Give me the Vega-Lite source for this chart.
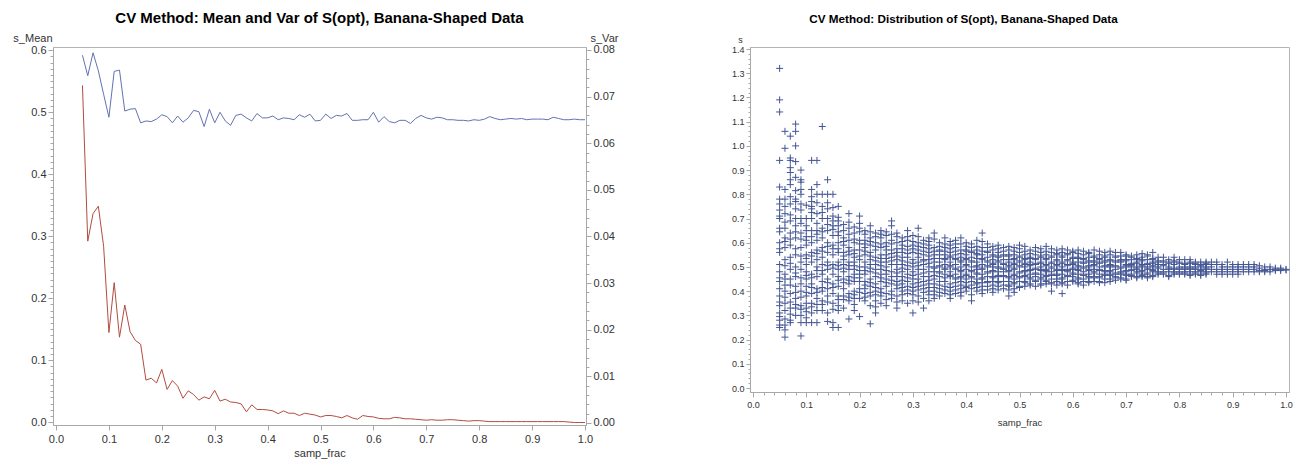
{
  "$schema": "https://vega.github.io/schema/vega-lite/v6.json",
  "padding": {"left": 12, "top": 10, "right": 0, "bottom": 0},
  "background": "white",
  "spacing": 111,
  "config": {
    "font": "Liberation Sans",
    "view": {"stroke": "#b4b4b4", "strokeWidth": 1},
    "axis": {"labelFont": "Liberation Sans", "titleFont": "Liberation Sans", "labelColor": "#333333", "titleColor": "#333333", "domainColor": "#a8a8a8", "tickColor": "#a8a8a8", "grid": false, "titleFontWeight": "normal", "labelOverlap": false, "labelFlush": false}
  },
  "datasets": {
    "summary": [
      {"samp_frac":0.05,"s_Mean":0.592,"s_Var":0.0724},{"samp_frac":0.06,"s_Mean":0.559,"s_Var":0.0390},{"samp_frac":0.07,"s_Mean":0.596,"s_Var":0.0449},{"samp_frac":0.08,"s_Mean":0.567,"s_Var":0.0465},{"samp_frac":0.09,"s_Mean":0.529,"s_Var":0.0379},{"samp_frac":0.10,"s_Mean":0.492,"s_Var":0.0194},{"samp_frac":0.11,"s_Mean":0.566,"s_Var":0.0301},{"samp_frac":0.12,"s_Mean":0.568,"s_Var":0.0184},{"samp_frac":0.13,"s_Mean":0.502,"s_Var":0.0253},{"samp_frac":0.14,"s_Mean":0.505,"s_Var":0.0196},
      {"samp_frac":0.15,"s_Mean":0.506,"s_Var":0.0177},{"samp_frac":0.16,"s_Mean":0.483,"s_Var":0.0169},{"samp_frac":0.17,"s_Mean":0.486,"s_Var":0.0092},{"samp_frac":0.18,"s_Mean":0.485,"s_Var":0.0096},{"samp_frac":0.19,"s_Mean":0.489,"s_Var":0.0086},{"samp_frac":0.20,"s_Mean":0.496,"s_Var":0.0115},{"samp_frac":0.21,"s_Mean":0.493,"s_Var":0.0072},{"samp_frac":0.22,"s_Mean":0.483,"s_Var":0.0091},{"samp_frac":0.23,"s_Mean":0.494,"s_Var":0.0079},{"samp_frac":0.24,"s_Mean":0.484,"s_Var":0.0053},
      {"samp_frac":0.25,"s_Mean":0.491,"s_Var":0.0069},{"samp_frac":0.26,"s_Mean":0.503,"s_Var":0.0061},{"samp_frac":0.27,"s_Mean":0.501,"s_Var":0.0049},{"samp_frac":0.28,"s_Mean":0.477,"s_Var":0.0056},{"samp_frac":0.29,"s_Mean":0.505,"s_Var":0.0052},{"samp_frac":0.30,"s_Mean":0.483,"s_Var":0.0070},{"samp_frac":0.31,"s_Mean":0.500,"s_Var":0.0047},{"samp_frac":0.32,"s_Mean":0.486,"s_Var":0.0051},{"samp_frac":0.33,"s_Mean":0.479,"s_Var":0.0045},{"samp_frac":0.34,"s_Mean":0.495,"s_Var":0.0044},
      {"samp_frac":0.35,"s_Mean":0.497,"s_Var":0.0041},{"samp_frac":0.36,"s_Mean":0.491,"s_Var":0.0024},{"samp_frac":0.37,"s_Mean":0.486,"s_Var":0.0039},{"samp_frac":0.38,"s_Mean":0.498,"s_Var":0.0029},{"samp_frac":0.39,"s_Mean":0.491,"s_Var":0.0029},{"samp_frac":0.40,"s_Mean":0.491,"s_Var":0.0028},{"samp_frac":0.41,"s_Mean":0.494,"s_Var":0.0026},{"samp_frac":0.42,"s_Mean":0.488,"s_Var":0.0020},{"samp_frac":0.43,"s_Mean":0.491,"s_Var":0.0026},{"samp_frac":0.44,"s_Mean":0.490,"s_Var":0.0021},
      {"samp_frac":0.45,"s_Mean":0.488,"s_Var":0.0021},{"samp_frac":0.46,"s_Mean":0.496,"s_Var":0.0016},{"samp_frac":0.47,"s_Mean":0.492,"s_Var":0.0021},{"samp_frac":0.48,"s_Mean":0.497,"s_Var":0.0019},{"samp_frac":0.49,"s_Mean":0.486,"s_Var":0.0017},{"samp_frac":0.50,"s_Mean":0.487,"s_Var":0.0013},{"samp_frac":0.51,"s_Mean":0.497,"s_Var":0.0016},{"samp_frac":0.52,"s_Mean":0.490,"s_Var":0.0016},{"samp_frac":0.53,"s_Mean":0.495,"s_Var":0.0014},{"samp_frac":0.54,"s_Mean":0.494,"s_Var":0.0011},
      {"samp_frac":0.55,"s_Mean":0.498,"s_Var":0.0016},{"samp_frac":0.56,"s_Mean":0.487,"s_Var":0.0011},{"samp_frac":0.57,"s_Mean":0.487,"s_Var":0.0008},{"samp_frac":0.58,"s_Mean":0.488,"s_Var":0.0016},{"samp_frac":0.59,"s_Mean":0.488,"s_Var":0.0014},{"samp_frac":0.60,"s_Mean":0.500,"s_Var":0.0013},{"samp_frac":0.61,"s_Mean":0.484,"s_Var":0.0010},{"samp_frac":0.62,"s_Mean":0.493,"s_Var":0.0009},{"samp_frac":0.63,"s_Mean":0.485,"s_Var":0.0009},{"samp_frac":0.64,"s_Mean":0.483,"s_Var":0.0012},
      {"samp_frac":0.65,"s_Mean":0.487,"s_Var":0.0011},{"samp_frac":0.66,"s_Mean":0.487,"s_Var":0.0009},{"samp_frac":0.67,"s_Mean":0.482,"s_Var":0.0009},{"samp_frac":0.68,"s_Mean":0.490,"s_Var":0.0008},{"samp_frac":0.69,"s_Mean":0.495,"s_Var":0.0007},{"samp_frac":0.70,"s_Mean":0.491,"s_Var":0.0006},{"samp_frac":0.71,"s_Mean":0.489,"s_Var":0.0007},{"samp_frac":0.72,"s_Mean":0.492,"s_Var":0.0006},{"samp_frac":0.73,"s_Mean":0.491,"s_Var":0.0006},{"samp_frac":0.74,"s_Mean":0.488,"s_Var":0.0007},
      {"samp_frac":0.75,"s_Mean":0.488,"s_Var":0.0007},{"samp_frac":0.76,"s_Mean":0.487,"s_Var":0.0006},{"samp_frac":0.77,"s_Mean":0.487,"s_Var":0.0005},{"samp_frac":0.78,"s_Mean":0.486,"s_Var":0.0004},{"samp_frac":0.79,"s_Mean":0.488,"s_Var":0.0005},{"samp_frac":0.80,"s_Mean":0.487,"s_Var":0.0005},{"samp_frac":0.81,"s_Mean":0.489,"s_Var":0.0004},{"samp_frac":0.82,"s_Mean":0.493,"s_Var":0.0003},{"samp_frac":0.83,"s_Mean":0.490,"s_Var":0.0003},{"samp_frac":0.84,"s_Mean":0.488,"s_Var":0.0003},
      {"samp_frac":0.85,"s_Mean":0.489,"s_Var":0.0003},{"samp_frac":0.86,"s_Mean":0.490,"s_Var":0.0003},{"samp_frac":0.87,"s_Mean":0.489,"s_Var":0.0003},{"samp_frac":0.88,"s_Mean":0.490,"s_Var":0.0003},{"samp_frac":0.89,"s_Mean":0.488,"s_Var":0.0003},{"samp_frac":0.90,"s_Mean":0.489,"s_Var":0.0003},{"samp_frac":0.91,"s_Mean":0.489,"s_Var":0.0003},{"samp_frac":0.92,"s_Mean":0.489,"s_Var":0.0003},{"samp_frac":0.93,"s_Mean":0.488,"s_Var":0.0003},{"samp_frac":0.94,"s_Mean":0.492,"s_Var":0.0003},
      {"samp_frac":0.95,"s_Mean":0.490,"s_Var":0.0003},{"samp_frac":0.96,"s_Mean":0.488,"s_Var":0.0003},{"samp_frac":0.97,"s_Mean":0.488,"s_Var":0.0002},{"samp_frac":0.98,"s_Mean":0.489,"s_Var":0.0001},{"samp_frac":0.99,"s_Mean":0.488,"s_Var":0.0001},{"samp_frac":1.00,"s_Mean":0.488,"s_Var":0.0001}
    ],
    "runs": [
      {"frac":0.05,"s":1.32},{"frac":0.05,"s":1.19},{"frac":0.05,"s":1.14},{"frac":0.05,"s":0.94},{"frac":0.05,"s":0.83},{"frac":0.05,"s":0.78},{"frac":0.05,"s":0.76},{"frac":0.05,"s":0.71},{"frac":0.05,"s":0.70},{"frac":0.05,"s":0.66},{"frac":0.05,"s":0.60},{"frac":0.05,"s":0.56},{"frac":0.05,"s":0.51},{"frac":0.05,"s":0.48},{"frac":0.05,"s":0.44},{"frac":0.05,"s":0.41},{"frac":0.05,"s":0.38},{"frac":0.05,"s":0.34},{"frac":0.05,"s":0.31},{"frac":0.05,"s":0.28},{"frac":0.05,"s":0.26},{"frac":0.05,"s":0.25},
      {"frac":0.06,"s":1.06},{"frac":0.06,"s":0.99},{"frac":0.06,"s":0.82},{"frac":0.06,"s":0.78},{"frac":0.06,"s":0.75},{"frac":0.06,"s":0.72},{"frac":0.06,"s":0.66},{"frac":0.06,"s":0.62},{"frac":0.06,"s":0.58},{"frac":0.06,"s":0.53},{"frac":0.06,"s":0.47},{"frac":0.06,"s":0.45},{"frac":0.06,"s":0.40},{"frac":0.06,"s":0.35},{"frac":0.06,"s":0.32},{"frac":0.06,"s":0.26},{"frac":0.06,"s":0.24},{"frac":0.06,"s":0.21},
      {"frac":0.07,"s":1.04},{"frac":0.07,"s":0.95},{"frac":0.07,"s":0.94},{"frac":0.07,"s":0.91},{"frac":0.07,"s":0.89},{"frac":0.07,"s":0.86},{"frac":0.07,"s":0.84},{"frac":0.07,"s":0.79},{"frac":0.07,"s":0.76},{"frac":0.07,"s":0.69},{"frac":0.07,"s":0.64},{"frac":0.07,"s":0.59},{"frac":0.07,"s":0.54},{"frac":0.07,"s":0.49},{"frac":0.07,"s":0.45},{"frac":0.07,"s":0.39},{"frac":0.07,"s":0.33},{"frac":0.07,"s":0.28},{"frac":0.07,"s":0.27},
      {"frac":0.08,"s":1.09},{"frac":0.08,"s":1.06},{"frac":0.08,"s":1.00},{"frac":0.08,"s":0.935},{"frac":0.08,"s":0.87},{"frac":0.08,"s":0.78},{"frac":0.08,"s":0.77},{"frac":0.08,"s":0.74},{"frac":0.08,"s":0.70},{"frac":0.08,"s":0.67},{"frac":0.08,"s":0.62},{"frac":0.08,"s":0.55},{"frac":0.08,"s":0.50},{"frac":0.08,"s":0.46},{"frac":0.08,"s":0.42},{"frac":0.08,"s":0.37},{"frac":0.08,"s":0.33},{"frac":0.08,"s":0.30},
      {"frac":0.09,"s":0.90},{"frac":0.09,"s":0.86},{"frac":0.09,"s":0.85},{"frac":0.09,"s":0.82},{"frac":0.09,"s":0.80},{"frac":0.09,"s":0.76},{"frac":0.09,"s":0.70},{"frac":0.09,"s":0.68},{"frac":0.09,"s":0.64},{"frac":0.09,"s":0.58},{"frac":0.09,"s":0.52},{"frac":0.09,"s":0.49},{"frac":0.09,"s":0.43},{"frac":0.09,"s":0.40},{"frac":0.09,"s":0.34},{"frac":0.09,"s":0.30},{"frac":0.09,"s":0.27},{"frac":0.09,"s":0.215},
      {"frac":0.10,"s":0.70},{"frac":0.10,"s":0.67},{"frac":0.10,"s":0.65},{"frac":0.10,"s":0.61},{"frac":0.10,"s":0.59},{"frac":0.10,"s":0.55},{"frac":0.10,"s":0.51},{"frac":0.10,"s":0.48},{"frac":0.10,"s":0.45},{"frac":0.10,"s":0.42},{"frac":0.10,"s":0.38},{"frac":0.10,"s":0.35},{"frac":0.10,"s":0.33},{"frac":0.10,"s":0.29},{"frac":0.10,"s":0.27},
      {"frac":0.11,"s":0.94},{"frac":0.11,"s":0.82},{"frac":0.11,"s":0.79},{"frac":0.11,"s":0.77},{"frac":0.11,"s":0.75},{"frac":0.11,"s":0.74},{"frac":0.11,"s":0.70},{"frac":0.11,"s":0.65},{"frac":0.11,"s":0.60},{"frac":0.11,"s":0.56},{"frac":0.11,"s":0.52},{"frac":0.11,"s":0.47},{"frac":0.11,"s":0.43},{"frac":0.11,"s":0.39},{"frac":0.11,"s":0.35},{"frac":0.11,"s":0.31},{"frac":0.11,"s":0.27},
      {"frac":0.12,"s":0.94},{"frac":0.12,"s":0.84},{"frac":0.12,"s":0.80},{"frac":0.12,"s":0.72},{"frac":0.12,"s":0.68},{"frac":0.12,"s":0.65},{"frac":0.12,"s":0.61},{"frac":0.12,"s":0.57},{"frac":0.12,"s":0.53},{"frac":0.12,"s":0.50},{"frac":0.12,"s":0.46},{"frac":0.12,"s":0.41},{"frac":0.12,"s":0.37},{"frac":0.12,"s":0.32},{"frac":0.12,"s":0.27},
      {"frac":0.13,"s":1.08},{"frac":0.13,"s":0.80},{"frac":0.13,"s":0.75},{"frac":0.13,"s":0.70},{"frac":0.13,"s":0.66},{"frac":0.13,"s":0.62},{"frac":0.13,"s":0.58},{"frac":0.13,"s":0.54},{"frac":0.13,"s":0.51},{"frac":0.13,"s":0.47},{"frac":0.13,"s":0.44},{"frac":0.13,"s":0.40},{"frac":0.13,"s":0.36},{"frac":0.13,"s":0.32},
      {"frac":0.14,"s":0.86},{"frac":0.14,"s":0.80},{"frac":0.14,"s":0.74},{"frac":0.14,"s":0.70},{"frac":0.14,"s":0.65},{"frac":0.14,"s":0.60},{"frac":0.14,"s":0.56},{"frac":0.14,"s":0.52},{"frac":0.14,"s":0.49},{"frac":0.14,"s":0.45},{"frac":0.14,"s":0.41},{"frac":0.14,"s":0.38},{"frac":0.14,"s":0.31},{"frac":0.14,"s":0.275},
      {"frac":0.15,"s":0.80},{"frac":0.15,"s":0.71},{"frac":0.15,"s":0.69},{"frac":0.15,"s":0.67},{"frac":0.15,"s":0.63},{"frac":0.15,"s":0.59},{"frac":0.15,"s":0.55},{"frac":0.15,"s":0.51},{"frac":0.15,"s":0.47},{"frac":0.15,"s":0.43},{"frac":0.15,"s":0.39},{"frac":0.15,"s":0.35},{"frac":0.15,"s":0.27},{"frac":0.15,"s":0.25},
      {"frac":0.16,"s":0.75},{"frac":0.16,"s":0.69},{"frac":0.16,"s":0.67},{"frac":0.16,"s":0.63},{"frac":0.16,"s":0.60},{"frac":0.16,"s":0.56},{"frac":0.16,"s":0.52},{"frac":0.16,"s":0.49},{"frac":0.16,"s":0.46},{"frac":0.16,"s":0.42},{"frac":0.16,"s":0.38},{"frac":0.16,"s":0.34},{"frac":0.16,"s":0.32},{"frac":0.16,"s":0.25},
      {"frac":0.17,"s":0.65},{"frac":0.17,"s":0.62},{"frac":0.17,"s":0.59},{"frac":0.17,"s":0.56},{"frac":0.17,"s":0.53},{"frac":0.17,"s":0.51},{"frac":0.17,"s":0.48},{"frac":0.17,"s":0.45},{"frac":0.17,"s":0.41},{"frac":0.17,"s":0.38},{"frac":0.17,"s":0.33},
      {"frac":0.18,"s":0.72},{"frac":0.18,"s":0.66},{"frac":0.18,"s":0.61},{"frac":0.18,"s":0.58},{"frac":0.18,"s":0.55},{"frac":0.18,"s":0.52},{"frac":0.18,"s":0.49},{"frac":0.18,"s":0.46},{"frac":0.18,"s":0.43},{"frac":0.18,"s":0.39},{"frac":0.18,"s":0.36},{"frac":0.18,"s":0.285},
      {"frac":0.19,"s":0.64},{"frac":0.19,"s":0.60},{"frac":0.19,"s":0.57},{"frac":0.19,"s":0.54},{"frac":0.19,"s":0.52},{"frac":0.19,"s":0.49},{"frac":0.19,"s":0.47},{"frac":0.19,"s":0.44},{"frac":0.19,"s":0.40},{"frac":0.19,"s":0.37},{"frac":0.19,"s":0.32},
      {"frac":0.20,"s":0.71},{"frac":0.20,"s":0.68},{"frac":0.20,"s":0.66},{"frac":0.20,"s":0.61},{"frac":0.20,"s":0.57},{"frac":0.20,"s":0.53},{"frac":0.20,"s":0.50},{"frac":0.20,"s":0.47},{"frac":0.20,"s":0.44},{"frac":0.20,"s":0.41},{"frac":0.20,"s":0.37},{"frac":0.20,"s":0.295},
      {"frac":0.21,"s":0.65},{"frac":0.21,"s":0.61},{"frac":0.21,"s":0.58},{"frac":0.21,"s":0.55},{"frac":0.21,"s":0.52},{"frac":0.21,"s":0.50},{"frac":0.21,"s":0.47},{"frac":0.21,"s":0.44},{"frac":0.21,"s":0.41},{"frac":0.21,"s":0.39},{"frac":0.21,"s":0.36},
      {"frac":0.22,"s":0.67},{"frac":0.22,"s":0.62},{"frac":0.22,"s":0.59},{"frac":0.22,"s":0.56},{"frac":0.22,"s":0.53},{"frac":0.22,"s":0.51},{"frac":0.22,"s":0.48},{"frac":0.22,"s":0.45},{"frac":0.22,"s":0.42},{"frac":0.22,"s":0.38},{"frac":0.22,"s":0.34},{"frac":0.22,"s":0.265},
      {"frac":0.23,"s":0.64},{"frac":0.23,"s":0.60},{"frac":0.23,"s":0.57},{"frac":0.23,"s":0.54},{"frac":0.23,"s":0.51},{"frac":0.23,"s":0.49},{"frac":0.23,"s":0.46},{"frac":0.23,"s":0.43},{"frac":0.23,"s":0.40},{"frac":0.23,"s":0.36},{"frac":0.23,"s":0.31},
      {"frac":0.24,"s":0.65},{"frac":0.24,"s":0.62},{"frac":0.24,"s":0.58},{"frac":0.24,"s":0.55},{"frac":0.24,"s":0.52},{"frac":0.24,"s":0.49},{"frac":0.24,"s":0.47},{"frac":0.24,"s":0.44},{"frac":0.24,"s":0.41},{"frac":0.24,"s":0.38},{"frac":0.24,"s":0.35},
      {"frac":0.25,"s":0.63},{"frac":0.25,"s":0.60},{"frac":0.25,"s":0.57},{"frac":0.25,"s":0.55},{"frac":0.25,"s":0.52},{"frac":0.25,"s":0.50},{"frac":0.25,"s":0.47},{"frac":0.25,"s":0.45},{"frac":0.25,"s":0.42},{"frac":0.25,"s":0.39},{"frac":0.25,"s":0.34},
      {"frac":0.26,"s":0.69},{"frac":0.26,"s":0.67},{"frac":0.26,"s":0.61},{"frac":0.26,"s":0.57},{"frac":0.26,"s":0.54},{"frac":0.26,"s":0.51},{"frac":0.26,"s":0.48},{"frac":0.26,"s":0.46},{"frac":0.26,"s":0.43},{"frac":0.26,"s":0.40},{"frac":0.26,"s":0.37},
      {"frac":0.27,"s":0.64},{"frac":0.27,"s":0.60},{"frac":0.27,"s":0.56},{"frac":0.27,"s":0.53},{"frac":0.27,"s":0.51},{"frac":0.27,"s":0.49},{"frac":0.27,"s":0.46},{"frac":0.27,"s":0.44},{"frac":0.27,"s":0.41},{"frac":0.27,"s":0.38},{"frac":0.27,"s":0.33},
      {"frac":0.28,"s":0.62},{"frac":0.28,"s":0.59},{"frac":0.28,"s":0.56},{"frac":0.28,"s":0.54},{"frac":0.28,"s":0.51},{"frac":0.28,"s":0.48},{"frac":0.28,"s":0.46},{"frac":0.28,"s":0.43},{"frac":0.28,"s":0.40},{"frac":0.28,"s":0.36},
      {"frac":0.29,"s":0.65},{"frac":0.29,"s":0.61},{"frac":0.29,"s":0.57},{"frac":0.29,"s":0.54},{"frac":0.29,"s":0.52},{"frac":0.29,"s":0.49},{"frac":0.29,"s":0.47},{"frac":0.29,"s":0.44},{"frac":0.29,"s":0.42},{"frac":0.29,"s":0.39},{"frac":0.29,"s":0.35},
      {"frac":0.30,"s":0.63},{"frac":0.30,"s":0.59},{"frac":0.30,"s":0.56},{"frac":0.30,"s":0.53},{"frac":0.30,"s":0.50},{"frac":0.30,"s":0.48},{"frac":0.30,"s":0.45},{"frac":0.30,"s":0.43},{"frac":0.30,"s":0.40},{"frac":0.30,"s":0.36},{"frac":0.30,"s":0.31},
      {"frac":0.31,"s":0.66},{"frac":0.31,"s":0.60},{"frac":0.31,"s":0.57},{"frac":0.31,"s":0.54},{"frac":0.31,"s":0.52},{"frac":0.31,"s":0.49},{"frac":0.31,"s":0.47},{"frac":0.31,"s":0.45},{"frac":0.31,"s":0.42},{"frac":0.31,"s":0.38},
      {"frac":0.32,"s":0.61},{"frac":0.32,"s":0.58},{"frac":0.32,"s":0.55},{"frac":0.32,"s":0.53},{"frac":0.32,"s":0.51},{"frac":0.32,"s":0.49},{"frac":0.32,"s":0.46},{"frac":0.32,"s":0.44},{"frac":0.32,"s":0.41},{"frac":0.32,"s":0.37},{"frac":0.32,"s":0.33},
      {"frac":0.33,"s":0.62},{"frac":0.33,"s":0.59},{"frac":0.33,"s":0.56},{"frac":0.33,"s":0.53},{"frac":0.33,"s":0.50},{"frac":0.33,"s":0.48},{"frac":0.33,"s":0.46},{"frac":0.33,"s":0.43},{"frac":0.33,"s":0.40},{"frac":0.33,"s":0.36},
      {"frac":0.34,"s":0.64},{"frac":0.34,"s":0.58},{"frac":0.34,"s":0.55},{"frac":0.34,"s":0.52},{"frac":0.34,"s":0.50},{"frac":0.34,"s":0.48},{"frac":0.34,"s":0.45},{"frac":0.34,"s":0.43},{"frac":0.34,"s":0.40},{"frac":0.34,"s":0.37},
      {"frac":0.35,"s":0.60},{"frac":0.35,"s":0.57},{"frac":0.35,"s":0.55},{"frac":0.35,"s":0.52},{"frac":0.35,"s":0.50},{"frac":0.35,"s":0.48},{"frac":0.35,"s":0.46},{"frac":0.35,"s":0.44},{"frac":0.35,"s":0.41},{"frac":0.35,"s":0.38},
      {"frac":0.36,"s":0.62},{"frac":0.36,"s":0.58},{"frac":0.36,"s":0.55},{"frac":0.36,"s":0.53},{"frac":0.36,"s":0.51},{"frac":0.36,"s":0.49},{"frac":0.36,"s":0.47},{"frac":0.36,"s":0.44},{"frac":0.36,"s":0.42},{"frac":0.36,"s":0.39},
      {"frac":0.37,"s":0.59},{"frac":0.37,"s":0.56},{"frac":0.37,"s":0.54},{"frac":0.37,"s":0.52},{"frac":0.37,"s":0.50},{"frac":0.37,"s":0.48},{"frac":0.37,"s":0.46},{"frac":0.37,"s":0.43},{"frac":0.37,"s":0.40},{"frac":0.37,"s":0.37},
      {"frac":0.38,"s":0.61},{"frac":0.38,"s":0.58},{"frac":0.38,"s":0.55},{"frac":0.38,"s":0.53},{"frac":0.38,"s":0.51},{"frac":0.38,"s":0.49},{"frac":0.38,"s":0.47},{"frac":0.38,"s":0.45},{"frac":0.38,"s":0.42},{"frac":0.38,"s":0.39},
      {"frac":0.39,"s":0.62},{"frac":0.39,"s":0.57},{"frac":0.39,"s":0.54},{"frac":0.39,"s":0.52},{"frac":0.39,"s":0.50},{"frac":0.39,"s":0.48},{"frac":0.39,"s":0.46},{"frac":0.39,"s":0.44},{"frac":0.39,"s":0.41},{"frac":0.39,"s":0.38},
      {"frac":0.40,"s":0.60},{"frac":0.40,"s":0.57},{"frac":0.40,"s":0.55},{"frac":0.40,"s":0.53},{"frac":0.40,"s":0.51},{"frac":0.40,"s":0.49},{"frac":0.40,"s":0.47},{"frac":0.40,"s":0.45},{"frac":0.40,"s":0.42},{"frac":0.40,"s":0.40},
      {"frac":0.41,"s":0.58},{"frac":0.41,"s":0.56},{"frac":0.41,"s":0.54},{"frac":0.41,"s":0.52},{"frac":0.41,"s":0.50},{"frac":0.41,"s":0.48},{"frac":0.41,"s":0.46},{"frac":0.41,"s":0.44},{"frac":0.41,"s":0.41},{"frac":0.41,"s":0.36},
      {"frac":0.42,"s":0.61},{"frac":0.42,"s":0.57},{"frac":0.42,"s":0.55},{"frac":0.42,"s":0.52},{"frac":0.42,"s":0.50},{"frac":0.42,"s":0.49},{"frac":0.42,"s":0.47},{"frac":0.42,"s":0.45},{"frac":0.42,"s":0.43},{"frac":0.42,"s":0.40},
      {"frac":0.43,"s":0.64},{"frac":0.43,"s":0.58},{"frac":0.43,"s":0.55},{"frac":0.43,"s":0.53},{"frac":0.43,"s":0.51},{"frac":0.43,"s":0.49},{"frac":0.43,"s":0.47},{"frac":0.43,"s":0.45},{"frac":0.43,"s":0.42},{"frac":0.43,"s":0.39},
      {"frac":0.44,"s":0.58},{"frac":0.44,"s":0.56},{"frac":0.44,"s":0.54},{"frac":0.44,"s":0.52},{"frac":0.44,"s":0.50},{"frac":0.44,"s":0.48},{"frac":0.44,"s":0.46},{"frac":0.44,"s":0.44},{"frac":0.44,"s":0.42},
      {"frac":0.45,"s":0.57},{"frac":0.45,"s":0.55},{"frac":0.45,"s":0.53},{"frac":0.45,"s":0.51},{"frac":0.45,"s":0.50},{"frac":0.45,"s":0.48},{"frac":0.45,"s":0.46},{"frac":0.45,"s":0.44},{"frac":0.45,"s":0.41},
      {"frac":0.46,"s":0.59},{"frac":0.46,"s":0.56},{"frac":0.46,"s":0.54},{"frac":0.46,"s":0.52},{"frac":0.46,"s":0.50},{"frac":0.46,"s":0.48},{"frac":0.46,"s":0.46},{"frac":0.46,"s":0.44},{"frac":0.46,"s":0.42},
      {"frac":0.47,"s":0.58},{"frac":0.47,"s":0.55},{"frac":0.47,"s":0.53},{"frac":0.47,"s":0.51},{"frac":0.47,"s":0.49},{"frac":0.47,"s":0.48},{"frac":0.47,"s":0.46},{"frac":0.47,"s":0.44},{"frac":0.47,"s":0.41},
      {"frac":0.48,"s":0.57},{"frac":0.48,"s":0.55},{"frac":0.48,"s":0.53},{"frac":0.48,"s":0.52},{"frac":0.48,"s":0.50},{"frac":0.48,"s":0.48},{"frac":0.48,"s":0.46},{"frac":0.48,"s":0.44},{"frac":0.48,"s":0.42},{"frac":0.48,"s":0.38},
      {"frac":0.49,"s":0.58},{"frac":0.49,"s":0.55},{"frac":0.49,"s":0.53},{"frac":0.49,"s":0.51},{"frac":0.49,"s":0.49},{"frac":0.49,"s":0.47},{"frac":0.49,"s":0.45},{"frac":0.49,"s":0.43},{"frac":0.49,"s":0.41},
      {"frac":0.50,"s":0.59},{"frac":0.50,"s":0.56},{"frac":0.50,"s":0.54},{"frac":0.50,"s":0.52},{"frac":0.50,"s":0.50},{"frac":0.50,"s":0.48},{"frac":0.50,"s":0.46},{"frac":0.50,"s":0.44},{"frac":0.50,"s":0.42},
      {"frac":0.51,"s":0.585},{"frac":0.51,"s":0.55},{"frac":0.51,"s":0.53},{"frac":0.51,"s":0.51},{"frac":0.51,"s":0.50},{"frac":0.51,"s":0.48},{"frac":0.51,"s":0.46},{"frac":0.51,"s":0.44},{"frac":0.51,"s":0.42},
      {"frac":0.52,"s":0.57},{"frac":0.52,"s":0.54},{"frac":0.52,"s":0.52},{"frac":0.52,"s":0.51},{"frac":0.52,"s":0.49},{"frac":0.52,"s":0.47},{"frac":0.52,"s":0.45},{"frac":0.52,"s":0.43},
      {"frac":0.53,"s":0.58},{"frac":0.53,"s":0.55},{"frac":0.53,"s":0.53},{"frac":0.53,"s":0.51},{"frac":0.53,"s":0.49},{"frac":0.53,"s":0.47},{"frac":0.53,"s":0.46},{"frac":0.53,"s":0.44},{"frac":0.53,"s":0.42},
      {"frac":0.54,"s":0.56},{"frac":0.54,"s":0.54},{"frac":0.54,"s":0.52},{"frac":0.54,"s":0.50},{"frac":0.54,"s":0.49},{"frac":0.54,"s":0.47},{"frac":0.54,"s":0.45},{"frac":0.54,"s":0.43},
      {"frac":0.55,"s":0.585},{"frac":0.55,"s":0.55},{"frac":0.55,"s":0.53},{"frac":0.55,"s":0.51},{"frac":0.55,"s":0.49},{"frac":0.55,"s":0.48},{"frac":0.55,"s":0.46},{"frac":0.55,"s":0.44},{"frac":0.55,"s":0.43},
      {"frac":0.56,"s":0.56},{"frac":0.56,"s":0.54},{"frac":0.56,"s":0.52},{"frac":0.56,"s":0.50},{"frac":0.56,"s":0.48},{"frac":0.56,"s":0.47},{"frac":0.56,"s":0.45},{"frac":0.56,"s":0.43},{"frac":0.56,"s":0.40},
      {"frac":0.57,"s":0.57},{"frac":0.57,"s":0.55},{"frac":0.57,"s":0.53},{"frac":0.57,"s":0.51},{"frac":0.57,"s":0.49},{"frac":0.57,"s":0.47},{"frac":0.57,"s":0.45},{"frac":0.57,"s":0.44},
      {"frac":0.58,"s":0.56},{"frac":0.58,"s":0.54},{"frac":0.58,"s":0.52},{"frac":0.58,"s":0.50},{"frac":0.58,"s":0.49},{"frac":0.58,"s":0.47},{"frac":0.58,"s":0.45},{"frac":0.58,"s":0.43},{"frac":0.58,"s":0.39},
      {"frac":0.59,"s":0.57},{"frac":0.59,"s":0.55},{"frac":0.59,"s":0.53},{"frac":0.59,"s":0.51},{"frac":0.59,"s":0.49},{"frac":0.59,"s":0.48},{"frac":0.59,"s":0.46},{"frac":0.59,"s":0.44},
      {"frac":0.60,"s":0.56},{"frac":0.60,"s":0.54},{"frac":0.60,"s":0.52},{"frac":0.60,"s":0.51},{"frac":0.60,"s":0.49},{"frac":0.60,"s":0.47},{"frac":0.60,"s":0.46},{"frac":0.60,"s":0.44},
      {"frac":0.61,"s":0.57},{"frac":0.61,"s":0.54},{"frac":0.61,"s":0.52},{"frac":0.61,"s":0.50},{"frac":0.61,"s":0.49},{"frac":0.61,"s":0.47},{"frac":0.61,"s":0.45},{"frac":0.61,"s":0.43},
      {"frac":0.62,"s":0.55},{"frac":0.62,"s":0.53},{"frac":0.62,"s":0.52},{"frac":0.62,"s":0.50},{"frac":0.62,"s":0.48},{"frac":0.62,"s":0.47},{"frac":0.62,"s":0.45},{"frac":0.62,"s":0.44},
      {"frac":0.63,"s":0.56},{"frac":0.63,"s":0.54},{"frac":0.63,"s":0.52},{"frac":0.63,"s":0.50},{"frac":0.63,"s":0.49},{"frac":0.63,"s":0.47},{"frac":0.63,"s":0.46},{"frac":0.63,"s":0.44},
      {"frac":0.64,"s":0.57},{"frac":0.64,"s":0.54},{"frac":0.64,"s":0.52},{"frac":0.64,"s":0.51},{"frac":0.64,"s":0.49},{"frac":0.64,"s":0.48},{"frac":0.64,"s":0.46},{"frac":0.64,"s":0.44},
      {"frac":0.65,"s":0.55},{"frac":0.65,"s":0.53},{"frac":0.65,"s":0.52},{"frac":0.65,"s":0.50},{"frac":0.65,"s":0.49},{"frac":0.65,"s":0.47},{"frac":0.65,"s":0.46},{"frac":0.65,"s":0.44},
      {"frac":0.66,"s":0.56},{"frac":0.66,"s":0.54},{"frac":0.66,"s":0.52},{"frac":0.66,"s":0.50},{"frac":0.66,"s":0.48},{"frac":0.66,"s":0.47},{"frac":0.66,"s":0.45},
      {"frac":0.67,"s":0.55},{"frac":0.67,"s":0.53},{"frac":0.67,"s":0.51},{"frac":0.67,"s":0.50},{"frac":0.67,"s":0.48},{"frac":0.67,"s":0.47},{"frac":0.67,"s":0.45},{"frac":0.67,"s":0.44},
      {"frac":0.68,"s":0.56},{"frac":0.68,"s":0.54},{"frac":0.68,"s":0.52},{"frac":0.68,"s":0.50},{"frac":0.68,"s":0.49},{"frac":0.68,"s":0.47},{"frac":0.68,"s":0.46},
      {"frac":0.69,"s":0.56},{"frac":0.69,"s":0.53},{"frac":0.69,"s":0.52},{"frac":0.69,"s":0.50},{"frac":0.69,"s":0.48},{"frac":0.69,"s":0.47},{"frac":0.69,"s":0.45},
      {"frac":0.70,"s":0.55},{"frac":0.70,"s":0.53},{"frac":0.70,"s":0.51},{"frac":0.70,"s":0.50},{"frac":0.70,"s":0.48},{"frac":0.70,"s":0.47},{"frac":0.70,"s":0.45},
      {"frac":0.71,"s":0.54},{"frac":0.71,"s":0.53},{"frac":0.71,"s":0.51},{"frac":0.71,"s":0.50},{"frac":0.71,"s":0.49},{"frac":0.71,"s":0.47},{"frac":0.71,"s":0.46},
      {"frac":0.72,"s":0.55},{"frac":0.72,"s":0.53},{"frac":0.72,"s":0.52},{"frac":0.72,"s":0.50},{"frac":0.72,"s":0.49},{"frac":0.72,"s":0.48},{"frac":0.72,"s":0.46},
      {"frac":0.73,"s":0.54},{"frac":0.73,"s":0.53},{"frac":0.73,"s":0.51},{"frac":0.73,"s":0.50},{"frac":0.73,"s":0.48},{"frac":0.73,"s":0.47},{"frac":0.73,"s":0.46},
      {"frac":0.74,"s":0.55},{"frac":0.74,"s":0.53},{"frac":0.74,"s":0.51},{"frac":0.74,"s":0.50},{"frac":0.74,"s":0.49},{"frac":0.74,"s":0.47},{"frac":0.74,"s":0.46},
      {"frac":0.75,"s":0.56},{"frac":0.75,"s":0.53},{"frac":0.75,"s":0.52},{"frac":0.75,"s":0.50},{"frac":0.75,"s":0.49},{"frac":0.75,"s":0.48},{"frac":0.75,"s":0.46},
      {"frac":0.76,"s":0.54},{"frac":0.76,"s":0.52},{"frac":0.76,"s":0.51},{"frac":0.76,"s":0.50},{"frac":0.76,"s":0.48},{"frac":0.76,"s":0.47},
      {"frac":0.77,"s":0.54},{"frac":0.77,"s":0.52},{"frac":0.77,"s":0.51},{"frac":0.77,"s":0.49},{"frac":0.77,"s":0.48},{"frac":0.77,"s":0.47},
      {"frac":0.78,"s":0.53},{"frac":0.78,"s":0.52},{"frac":0.78,"s":0.50},{"frac":0.78,"s":0.49},{"frac":0.78,"s":0.48},{"frac":0.78,"s":0.46},
      {"frac":0.79,"s":0.54},{"frac":0.79,"s":0.52},{"frac":0.79,"s":0.51},{"frac":0.79,"s":0.49},{"frac":0.79,"s":0.48},{"frac":0.79,"s":0.47},
      {"frac":0.80,"s":0.53},{"frac":0.80,"s":0.52},{"frac":0.80,"s":0.50},{"frac":0.80,"s":0.49},{"frac":0.80,"s":0.48},{"frac":0.80,"s":0.47},
      {"frac":0.81,"s":0.53},{"frac":0.81,"s":0.51},{"frac":0.81,"s":0.50},{"frac":0.81,"s":0.49},{"frac":0.81,"s":0.48},{"frac":0.81,"s":0.47},
      {"frac":0.82,"s":0.53},{"frac":0.82,"s":0.52},{"frac":0.82,"s":0.50},{"frac":0.82,"s":0.49},{"frac":0.82,"s":0.48},{"frac":0.82,"s":0.47},
      {"frac":0.83,"s":0.52},{"frac":0.83,"s":0.51},{"frac":0.83,"s":0.50},{"frac":0.83,"s":0.49},{"frac":0.83,"s":0.48},{"frac":0.83,"s":0.47},
      {"frac":0.84,"s":0.52},{"frac":0.84,"s":0.51},{"frac":0.84,"s":0.50},{"frac":0.84,"s":0.49},{"frac":0.84,"s":0.48},{"frac":0.84,"s":0.47},
      {"frac":0.85,"s":0.52},{"frac":0.85,"s":0.51},{"frac":0.85,"s":0.50},{"frac":0.85,"s":0.49},{"frac":0.85,"s":0.48},{"frac":0.85,"s":0.47},
      {"frac":0.86,"s":0.52},{"frac":0.86,"s":0.51},{"frac":0.86,"s":0.50},{"frac":0.86,"s":0.49},{"frac":0.86,"s":0.48},
      {"frac":0.87,"s":0.52},{"frac":0.87,"s":0.51},{"frac":0.87,"s":0.49},{"frac":0.87,"s":0.48},{"frac":0.87,"s":0.47},
      {"frac":0.88,"s":0.51},{"frac":0.88,"s":0.50},{"frac":0.88,"s":0.49},{"frac":0.88,"s":0.48},{"frac":0.88,"s":0.47},
      {"frac":0.89,"s":0.52},{"frac":0.89,"s":0.50},{"frac":0.89,"s":0.49},{"frac":0.89,"s":0.48},{"frac":0.89,"s":0.47},
      {"frac":0.90,"s":0.51},{"frac":0.90,"s":0.50},{"frac":0.90,"s":0.49},{"frac":0.90,"s":0.48},{"frac":0.90,"s":0.47},
      {"frac":0.91,"s":0.51},{"frac":0.91,"s":0.50},{"frac":0.91,"s":0.49},{"frac":0.91,"s":0.48},{"frac":0.91,"s":0.47},
      {"frac":0.92,"s":0.51},{"frac":0.92,"s":0.50},{"frac":0.92,"s":0.49},{"frac":0.92,"s":0.48},
      {"frac":0.93,"s":0.51},{"frac":0.93,"s":0.50},{"frac":0.93,"s":0.49},{"frac":0.93,"s":0.48},
      {"frac":0.94,"s":0.51},{"frac":0.94,"s":0.50},{"frac":0.94,"s":0.49},{"frac":0.94,"s":0.48},
      {"frac":0.95,"s":0.505},{"frac":0.95,"s":0.495},{"frac":0.95,"s":0.485},{"frac":0.95,"s":0.48},
      {"frac":0.96,"s":0.50},{"frac":0.96,"s":0.49},{"frac":0.96,"s":0.485},{"frac":0.96,"s":0.48},
      {"frac":0.97,"s":0.50},{"frac":0.97,"s":0.49},{"frac":0.97,"s":0.48},
      {"frac":0.98,"s":0.495},{"frac":0.98,"s":0.49},{"frac":0.98,"s":0.485},
      {"frac":0.99,"s":0.495},{"frac":0.99,"s":0.49},{"frac":0.99,"s":0.485},
      {"frac":1.00,"s":0.49},{"frac":1.00,"s":0.487},
      {"frac":0.05,"s":0.735},{"frac":0.05,"s":0.645},{"frac":0.05,"s":0.575},{"frac":0.05,"s":0.455},{"frac":0.05,"s":0.355},{"frac":0.05,"s":0.295},
      {"frac":0.06,"s":0.685},{"frac":0.06,"s":0.605},{"frac":0.06,"s":0.505},{"frac":0.06,"s":0.425},{"frac":0.06,"s":0.375},{"frac":0.06,"s":0.285},
      {"frac":0.07,"s":0.715},{"frac":0.07,"s":0.615},{"frac":0.07,"s":0.515},{"frac":0.07,"s":0.425},{"frac":0.07,"s":0.355},{"frac":0.07,"s":0.305},
      {"frac":0.08,"s":0.815},{"frac":0.08,"s":0.645},{"frac":0.08,"s":0.575},{"frac":0.08,"s":0.475},{"frac":0.08,"s":0.395},{"frac":0.08,"s":0.345},
      {"frac":0.09,"s":0.735},{"frac":0.09,"s":0.615},{"frac":0.09,"s":0.545},{"frac":0.09,"s":0.455},{"frac":0.09,"s":0.375},{"frac":0.09,"s":0.325},
      {"frac":0.10,"s":0.755},{"frac":0.10,"s":0.625},{"frac":0.10,"s":0.535},{"frac":0.10,"s":0.465},{"frac":0.10,"s":0.395},{"frac":0.10,"s":0.315},
      {"frac":0.11,"s":0.725},{"frac":0.11,"s":0.625},{"frac":0.11,"s":0.545},{"frac":0.11,"s":0.455},{"frac":0.11,"s":0.415},{"frac":0.11,"s":0.335},
      {"frac":0.12,"s":0.765},{"frac":0.12,"s":0.635},{"frac":0.12,"s":0.555},{"frac":0.12,"s":0.485},{"frac":0.12,"s":0.395},{"frac":0.12,"s":0.345},
      {"frac":0.13,"s":0.725},{"frac":0.13,"s":0.645},{"frac":0.13,"s":0.565},{"frac":0.13,"s":0.485},{"frac":0.13,"s":0.415},{"frac":0.13,"s":0.345},
      {"frac":0.14,"s":0.765},{"frac":0.14,"s":0.675},{"frac":0.14,"s":0.585},{"frac":0.14,"s":0.505},{"frac":0.14,"s":0.435},{"frac":0.14,"s":0.355},
      {"frac":0.15,"s":0.745},{"frac":0.15,"s":0.655},{"frac":0.15,"s":0.575},{"frac":0.15,"s":0.495},{"frac":0.15,"s":0.415},{"frac":0.15,"s":0.325},
      {"frac":0.16,"s":0.705},{"frac":0.16,"s":0.645},{"frac":0.16,"s":0.575},{"frac":0.16,"s":0.505},{"frac":0.16,"s":0.445},{"frac":0.16,"s":0.365},
      {"frac":0.17,"s":0.675},{"frac":0.17,"s":0.605},{"frac":0.17,"s":0.545},{"frac":0.17,"s":0.495},{"frac":0.17,"s":0.435},{"frac":0.17,"s":0.365},
      {"frac":0.18,"s":0.685},{"frac":0.18,"s":0.635},{"frac":0.18,"s":0.565},{"frac":0.18,"s":0.505},{"frac":0.18,"s":0.445},{"frac":0.18,"s":0.375},
      {"frac":0.19,"s":0.665},{"frac":0.19,"s":0.615},{"frac":0.19,"s":0.555},{"frac":0.19,"s":0.505},{"frac":0.19,"s":0.455},{"frac":0.19,"s":0.385},{"frac":0.19,"s":0.345},
      {"frac":0.20,"s":0.645},{"frac":0.20,"s":0.595},{"frac":0.20,"s":0.545},{"frac":0.20,"s":0.485},{"frac":0.20,"s":0.455},{"frac":0.20,"s":0.395},
      {"frac":0.21,"s":0.635},{"frac":0.21,"s":0.595},{"frac":0.21,"s":0.565},{"frac":0.21,"s":0.485},{"frac":0.21,"s":0.425},{"frac":0.21,"s":0.375},
      {"frac":0.22,"s":0.645},{"frac":0.22,"s":0.605},{"frac":0.22,"s":0.545},{"frac":0.22,"s":0.495},{"frac":0.22,"s":0.435},{"frac":0.22,"s":0.395},
      {"frac":0.23,"s":0.625},{"frac":0.23,"s":0.585},{"frac":0.23,"s":0.525},{"frac":0.23,"s":0.475},{"frac":0.23,"s":0.415},{"frac":0.23,"s":0.385},{"frac":0.23,"s":0.335},
      {"frac":0.24,"s":0.635},{"frac":0.24,"s":0.595},{"frac":0.24,"s":0.535},{"frac":0.24,"s":0.505},{"frac":0.24,"s":0.455},{"frac":0.24,"s":0.395},
      {"frac":0.25,"s":0.645},{"frac":0.25,"s":0.585},{"frac":0.25,"s":0.535},{"frac":0.25,"s":0.485},{"frac":0.25,"s":0.435},{"frac":0.25,"s":0.365},
      {"frac":0.26,"s":0.635},{"frac":0.26,"s":0.595},{"frac":0.26,"s":0.555},{"frac":0.26,"s":0.525},{"frac":0.26,"s":0.445},{"frac":0.26,"s":0.385},
      {"frac":0.27,"s":0.625},{"frac":0.27,"s":0.575},{"frac":0.27,"s":0.545},{"frac":0.27,"s":0.475},{"frac":0.27,"s":0.425},{"frac":0.27,"s":0.355},
      {"frac":0.28,"s":0.605},{"frac":0.28,"s":0.575},{"frac":0.28,"s":0.525},{"frac":0.28,"s":0.495},{"frac":0.28,"s":0.445},{"frac":0.28,"s":0.415},{"frac":0.28,"s":0.385},
      {"frac":0.29,"s":0.625},{"frac":0.29,"s":0.585},{"frac":0.29,"s":0.555},{"frac":0.29,"s":0.505},{"frac":0.29,"s":0.455},{"frac":0.29,"s":0.405},
      {"frac":0.30,"s":0.605},{"frac":0.30,"s":0.575},{"frac":0.30,"s":0.515},{"frac":0.30,"s":0.465},{"frac":0.30,"s":0.415},{"frac":0.30,"s":0.385},
      {"frac":0.31,"s":0.625},{"frac":0.31,"s":0.585},{"frac":0.31,"s":0.555},{"frac":0.31,"s":0.505},{"frac":0.31,"s":0.435},{"frac":0.31,"s":0.405},{"frac":0.31,"s":0.355},
      {"frac":0.32,"s":0.595},{"frac":0.32,"s":0.565},{"frac":0.32,"s":0.525},{"frac":0.32,"s":0.475},{"frac":0.32,"s":0.425},{"frac":0.32,"s":0.395},
      {"frac":0.33,"s":0.605},{"frac":0.33,"s":0.575},{"frac":0.33,"s":0.545},{"frac":0.33,"s":0.515},{"frac":0.33,"s":0.445},{"frac":0.33,"s":0.415},{"frac":0.33,"s":0.385},
      {"frac":0.34,"s":0.615},{"frac":0.34,"s":0.565},{"frac":0.34,"s":0.535},{"frac":0.34,"s":0.495},{"frac":0.34,"s":0.465},{"frac":0.34,"s":0.415},{"frac":0.34,"s":0.385},
      {"frac":0.35,"s":0.585},{"frac":0.35,"s":0.565},{"frac":0.35,"s":0.535},{"frac":0.35,"s":0.505},{"frac":0.35,"s":0.475},{"frac":0.35,"s":0.425},{"frac":0.35,"s":0.395},
      {"frac":0.36,"s":0.595},{"frac":0.36,"s":0.565},{"frac":0.36,"s":0.535},{"frac":0.36,"s":0.495},{"frac":0.36,"s":0.455},{"frac":0.36,"s":0.405},
      {"frac":0.37,"s":0.605},{"frac":0.37,"s":0.575},{"frac":0.37,"s":0.545},{"frac":0.37,"s":0.505},{"frac":0.37,"s":0.465},{"frac":0.37,"s":0.415},{"frac":0.37,"s":0.385},
      {"frac":0.38,"s":0.595},{"frac":0.38,"s":0.565},{"frac":0.38,"s":0.535},{"frac":0.38,"s":0.495},{"frac":0.38,"s":0.455},{"frac":0.38,"s":0.435},{"frac":0.38,"s":0.405},
      {"frac":0.39,"s":0.595},{"frac":0.39,"s":0.555},{"frac":0.39,"s":0.525},{"frac":0.39,"s":0.485},{"frac":0.39,"s":0.455},{"frac":0.39,"s":0.425},{"frac":0.39,"s":0.395},
      {"frac":0.40,"s":0.585},{"frac":0.40,"s":0.565},{"frac":0.40,"s":0.535},{"frac":0.40,"s":0.505},{"frac":0.40,"s":0.465},{"frac":0.40,"s":0.435},{"frac":0.40,"s":0.415},
      {"frac":0.41,"s":0.595},{"frac":0.41,"s":0.565},{"frac":0.41,"s":0.525},{"frac":0.41,"s":0.485},{"frac":0.41,"s":0.455},{"frac":0.41,"s":0.425},{"frac":0.41,"s":0.385},
      {"frac":0.42,"s":0.585},{"frac":0.42,"s":0.555},{"frac":0.42,"s":0.535},{"frac":0.42,"s":0.505},{"frac":0.42,"s":0.475},{"frac":0.42,"s":0.435},{"frac":0.42,"s":0.415},
      {"frac":0.43,"s":0.605},{"frac":0.43,"s":0.565},{"frac":0.43,"s":0.535},{"frac":0.43,"s":0.495},{"frac":0.43,"s":0.455},{"frac":0.43,"s":0.435},{"frac":0.43,"s":0.405},
      {"frac":0.44,"s":0.595},{"frac":0.44,"s":0.565},{"frac":0.44,"s":0.525},{"frac":0.44,"s":0.505},{"frac":0.44,"s":0.475},{"frac":0.44,"s":0.435},{"frac":0.44,"s":0.405},
      {"frac":0.45,"s":0.585},{"frac":0.45,"s":0.545},{"frac":0.45,"s":0.515},{"frac":0.45,"s":0.485},{"frac":0.45,"s":0.455},{"frac":0.45,"s":0.425},{"frac":0.45,"s":0.395},
      {"frac":0.46,"s":0.575},{"frac":0.46,"s":0.545},{"frac":0.46,"s":0.525},{"frac":0.46,"s":0.495},{"frac":0.46,"s":0.465},{"frac":0.46,"s":0.435},{"frac":0.46,"s":0.405},
      {"frac":0.47,"s":0.565},{"frac":0.47,"s":0.545},{"frac":0.47,"s":0.515},{"frac":0.47,"s":0.495},{"frac":0.47,"s":0.465},{"frac":0.47,"s":0.425},
      {"frac":0.48,"s":0.585},{"frac":0.48,"s":0.545},{"frac":0.48,"s":0.505},{"frac":0.48,"s":0.485},{"frac":0.48,"s":0.455},{"frac":0.48,"s":0.425},{"frac":0.48,"s":0.405},
      {"frac":0.49,"s":0.565},{"frac":0.49,"s":0.535},{"frac":0.49,"s":0.515},{"frac":0.49,"s":0.495},{"frac":0.49,"s":0.465},{"frac":0.49,"s":0.435},{"frac":0.49,"s":0.395},
      {"frac":0.50,"s":0.575},{"frac":0.50,"s":0.545},{"frac":0.50,"s":0.525},{"frac":0.50,"s":0.505},{"frac":0.50,"s":0.475},{"frac":0.50,"s":0.455},{"frac":0.50,"s":0.415},
      {"frac":0.51,"s":0.565},{"frac":0.51,"s":0.535},{"frac":0.51,"s":0.515},{"frac":0.51,"s":0.485},{"frac":0.51,"s":0.465},{"frac":0.51,"s":0.435},
      {"frac":0.52,"s":0.555},{"frac":0.52,"s":0.535},{"frac":0.52,"s":0.505},{"frac":0.52,"s":0.485},{"frac":0.52,"s":0.455},{"frac":0.52,"s":0.425},
      {"frac":0.53,"s":0.565},{"frac":0.53,"s":0.535},{"frac":0.53,"s":0.515},{"frac":0.53,"s":0.495},{"frac":0.53,"s":0.475},{"frac":0.53,"s":0.445},
      {"frac":0.54,"s":0.575},{"frac":0.54,"s":0.545},{"frac":0.54,"s":0.515},{"frac":0.54,"s":0.485},{"frac":0.54,"s":0.455},{"frac":0.54,"s":0.425},
      {"frac":0.55,"s":0.565},{"frac":0.55,"s":0.535},{"frac":0.55,"s":0.505},{"frac":0.55,"s":0.485},{"frac":0.55,"s":0.465},{"frac":0.55,"s":0.445},
      {"frac":0.56,"s":0.575},{"frac":0.56,"s":0.545},{"frac":0.56,"s":0.515},{"frac":0.56,"s":0.495},{"frac":0.56,"s":0.465},{"frac":0.56,"s":0.435},
      {"frac":0.57,"s":0.555},{"frac":0.57,"s":0.525},{"frac":0.57,"s":0.505},{"frac":0.57,"s":0.485},{"frac":0.57,"s":0.465},{"frac":0.57,"s":0.425},
      {"frac":0.58,"s":0.575},{"frac":0.58,"s":0.545},{"frac":0.58,"s":0.515},{"frac":0.58,"s":0.485},{"frac":0.58,"s":0.455},{"frac":0.58,"s":0.435},
      {"frac":0.59,"s":0.555},{"frac":0.59,"s":0.525},{"frac":0.59,"s":0.505},{"frac":0.59,"s":0.485},{"frac":0.59,"s":0.465},{"frac":0.59,"s":0.425},
      {"frac":0.60,"s":0.565},{"frac":0.60,"s":0.535},{"frac":0.60,"s":0.515},{"frac":0.60,"s":0.495},{"frac":0.60,"s":0.475},{"frac":0.60,"s":0.445},
      {"frac":0.61,"s":0.555},{"frac":0.61,"s":0.535},{"frac":0.61,"s":0.505},{"frac":0.61,"s":0.485},{"frac":0.61,"s":0.455},{"frac":0.61,"s":0.435},
      {"frac":0.62,"s":0.565},{"frac":0.62,"s":0.535},{"frac":0.62,"s":0.515},{"frac":0.62,"s":0.495},{"frac":0.62,"s":0.465},{"frac":0.62,"s":0.425},
      {"frac":0.63,"s":0.555},{"frac":0.63,"s":0.525},{"frac":0.63,"s":0.505},{"frac":0.63,"s":0.485},{"frac":0.63,"s":0.455},{"frac":0.63,"s":0.435},
      {"frac":0.64,"s":0.545},{"frac":0.64,"s":0.525},{"frac":0.64,"s":0.505},{"frac":0.64,"s":0.475},{"frac":0.64,"s":0.455},
      {"frac":0.65,"s":0.565},{"frac":0.65,"s":0.535},{"frac":0.65,"s":0.515},{"frac":0.65,"s":0.485},{"frac":0.65,"s":0.455},{"frac":0.65,"s":0.435},
      {"frac":0.66,"s":0.545},{"frac":0.66,"s":0.525},{"frac":0.66,"s":0.505},{"frac":0.66,"s":0.485},{"frac":0.66,"s":0.465},{"frac":0.66,"s":0.435},
      {"frac":0.67,"s":0.565},{"frac":0.67,"s":0.525},{"frac":0.67,"s":0.505},{"frac":0.67,"s":0.485},{"frac":0.67,"s":0.465},
      {"frac":0.68,"s":0.545},{"frac":0.68,"s":0.525},{"frac":0.68,"s":0.505},{"frac":0.68,"s":0.475},{"frac":0.68,"s":0.455},{"frac":0.68,"s":0.445},
      {"frac":0.69,"s":0.545},{"frac":0.69,"s":0.525},{"frac":0.69,"s":0.495},{"frac":0.69,"s":0.475},{"frac":0.69,"s":0.455},
      {"frac":0.70,"s":0.545},{"frac":0.70,"s":0.525},{"frac":0.70,"s":0.505},{"frac":0.70,"s":0.485},{"frac":0.70,"s":0.465},{"frac":0.70,"s":0.445},
      {"frac":0.71,"s":0.545},{"frac":0.71,"s":0.515},{"frac":0.71,"s":0.505},{"frac":0.71,"s":0.485},{"frac":0.71,"s":0.465},
      {"frac":0.72,"s":0.535},{"frac":0.72,"s":0.515},{"frac":0.72,"s":0.495},{"frac":0.72,"s":0.475},{"frac":0.72,"s":0.455},
      {"frac":0.73,"s":0.555},{"frac":0.73,"s":0.525},{"frac":0.73,"s":0.505},{"frac":0.73,"s":0.485},{"frac":0.73,"s":0.465},
      {"frac":0.74,"s":0.545},{"frac":0.74,"s":0.515},{"frac":0.74,"s":0.495},{"frac":0.74,"s":0.475},{"frac":0.74,"s":0.455},
      {"frac":0.75,"s":0.535},{"frac":0.75,"s":0.515},{"frac":0.75,"s":0.505},{"frac":0.75,"s":0.485},{"frac":0.75,"s":0.465},
      {"frac":0.76,"s":0.525},{"frac":0.76,"s":0.495},{"frac":0.76,"s":0.475},
      {"frac":0.77,"s":0.525},{"frac":0.77,"s":0.505},{"frac":0.77,"s":0.475},
      {"frac":0.78,"s":0.515},{"frac":0.78,"s":0.495},{"frac":0.78,"s":0.465},
      {"frac":0.79,"s":0.525},{"frac":0.79,"s":0.495},{"frac":0.79,"s":0.475},
      {"frac":0.80,"s":0.515},{"frac":0.80,"s":0.495},{"frac":0.80,"s":0.475},
      {"frac":0.81,"s":0.515},{"frac":0.81,"s":0.495},{"frac":0.81,"s":0.475},
      {"frac":0.82,"s":0.515},{"frac":0.82,"s":0.495},{"frac":0.82,"s":0.465},
      {"frac":0.83,"s":0.515},{"frac":0.83,"s":0.495},{"frac":0.83,"s":0.475},
      {"frac":0.84,"s":0.505},{"frac":0.84,"s":0.485},{"frac":0.84,"s":0.465},
      {"frac":0.85,"s":0.515},{"frac":0.85,"s":0.495},{"frac":0.85,"s":0.475}
    ]
  },
  "hconcat": [
    {
      "width": 533,
      "height": 378,
      "title": {"text": "CV Method: Mean and Var of S(opt), Banana-Shaped Data", "font": "Liberation Sans", "fontSize": 15, "fontWeight": "bold", "color": "#000000", "anchor": "middle", "frame": "group", "offset": 6},
      "data": {"name": "summary"},
      "encoding": {
        "x": {"field": "samp_frac", "type": "quantitative", "scale": {"domain": [-0.0057, 1.0019], "nice": false, "zero": false},
          "axis": {"values": [0, 0.1, 0.2, 0.3, 0.4, 0.5, 0.6, 0.7, 0.8, 0.9, 1.0], "format": ".1f", "title": "samp_frac", "labelFontSize": 11, "titleFontSize": 11, "tickSize": 5, "labelPadding": 3, "titlePadding": 3}}
      },
      "layer": [
        {
          "mark": {"type": "line", "color": "#6273b1", "strokeWidth": 1},
          "encoding": {
            "y": {"field": "s_Mean", "type": "quantitative", "scale": {"domain": [-0.0044, 0.6053], "nice": false, "zero": false},
              "axis": {"orient": "left", "values": [0,0.01,0.02,0.03,0.04,0.05,0.06,0.07,0.08,0.09,0.1,0.11,0.12,0.13,0.14,0.15,0.16,0.17,0.18,0.19,0.2,0.21,0.22,0.23,0.24,0.25,0.26,0.27,0.28,0.29,0.3,0.31,0.32,0.33,0.34,0.35,0.36,0.37,0.38,0.39,0.4,0.41,0.42,0.43,0.44,0.45,0.46,0.47,0.48,0.49,0.5,0.51,0.52,0.53,0.54,0.55,0.56,0.57,0.58,0.59,0.6],
                "labelExpr": "abs(datum.value*10-round(datum.value*10))<0.000001 ? format(datum.value,'.1f') : ''",
                "tickSize": {"condition": {"test": "abs(datum.value*10-round(datum.value*10))<0.000001", "value": 5}, "value": 3},
                "labelFontSize": 11, "labelPadding": 2,
                "title": "s_Mean", "titleFontSize": 11, "titleAngle": 0, "titleAlign": "right", "titleBaseline": "bottom", "titleX": -1, "titleY": -4}}
          }
        },
        {
          "mark": {"type": "line", "color": "#b24c40", "strokeWidth": 1},
          "encoding": {
            "y": {"field": "s_Var", "type": "quantitative", "scale": {"domain": [-0.00043, 0.08064], "nice": false, "zero": false},
              "axis": {"orient": "right", "values": [0,0.002,0.004,0.006,0.008,0.01,0.012,0.014,0.016,0.018,0.02,0.022,0.024,0.026,0.028,0.03,0.032,0.034,0.036,0.038,0.04,0.042,0.044,0.046,0.048,0.05,0.052,0.054,0.056,0.058,0.06,0.062,0.064,0.066,0.068,0.07,0.072,0.074,0.076,0.078,0.08],
                "labelExpr": "abs(datum.value*100-round(datum.value*100))<0.000001 ? format(datum.value,'.2f') : ''",
                "tickSize": {"condition": {"test": "abs(datum.value*100-round(datum.value*100))<0.000001", "value": 5}, "value": 3},
                "labelFontSize": 11, "labelPadding": 2,
                "title": "s_Var", "titleFontSize": 11, "titleAngle": 0, "titleAlign": "left", "titleBaseline": "bottom", "titleX": 4, "titleY": -4}}
          }
        }
      ],
      "resolve": {"scale": {"y": "independent"}}
    },
    {
      "width": 539,
      "height": 345,
      "title": {"text": "CV Method: Distribution of S(opt), Banana-Shaped Data", "font": "Liberation Sans", "fontSize": 11.7, "fontWeight": "bold", "color": "#000000", "anchor": "middle", "frame": "group", "offset": 9, "dx": -56},
      "data": {"name": "runs"},
      "mark": {"type": "point", "shape": "M-1,0L1,0M0,-1L0,1", "size": 49, "filled": false, "stroke": "#445694", "strokeWidth": 1, "opacity": 1},
      "encoding": {
        "x": {"field": "frac", "type": "quantitative", "scale": {"domain": [-0.0056, 1.0056], "nice": false, "zero": false},
          "axis": {"values": [0,0.02,0.04,0.06,0.08,0.1,0.12,0.14,0.16,0.18,0.2,0.22,0.24,0.26,0.28,0.3,0.32,0.34,0.36,0.38,0.4,0.42,0.44,0.46,0.48,0.5,0.52,0.54,0.56,0.58,0.6,0.62,0.64,0.66,0.68,0.7,0.72,0.74,0.76,0.78,0.8,0.82,0.84,0.86,0.88,0.9,0.92,0.94,0.96,0.98,1.0],
            "labelExpr": "abs(datum.value*10-round(datum.value*10))<0.000001 ? format(datum.value,'.1f') : ''",
            "tickSize": {"condition": {"test": "abs(datum.value*10-round(datum.value*10))<0.000001", "value": 5}, "value": 3},
            "labelFontSize": 9, "labelPadding": 3, "title": "samp_frac", "titleFontSize": 9.5, "titlePadding": 8}},
        "y": {"field": "s", "type": "quantitative", "scale": {"domain": [-0.0165, 1.4083], "nice": false, "zero": false},
          "axis": {"values": [0,0.02,0.04,0.06,0.08,0.1,0.12,0.14,0.16,0.18,0.2,0.22,0.24,0.26,0.28,0.3,0.32,0.34,0.36,0.38,0.4,0.42,0.44,0.46,0.48,0.5,0.52,0.54,0.56,0.58,0.6,0.62,0.64,0.66,0.68,0.7,0.72,0.74,0.76,0.78,0.8,0.82,0.84,0.86,0.88,0.9,0.92,0.94,0.96,0.98,1.0,1.02,1.04,1.06,1.08,1.1,1.12,1.14,1.16,1.18,1.2,1.22,1.24,1.26,1.28,1.3,1.32,1.34,1.36,1.38,1.4],
            "labelExpr": "abs(datum.value*10-round(datum.value*10))<0.000001 ? format(datum.value,'.1f') : ''",
            "tickSize": {"condition": {"test": "abs(datum.value*10-round(datum.value*10))<0.000001", "value": 4}, "value": 2},
            "labelFontSize": 9, "labelPadding": 2, "title": "s", "titleFontSize": 9, "titleAngle": 0, "titleAlign": "center", "titleBaseline": "bottom", "titleX": -10, "titleY": -3}}
      }
    }
  ]
}
